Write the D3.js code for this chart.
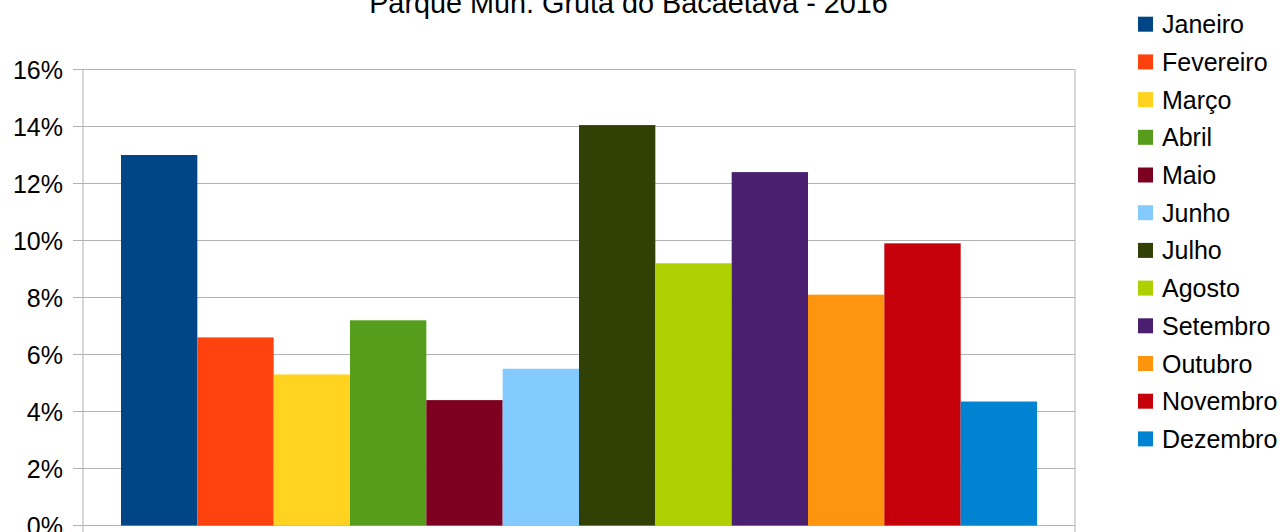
<!DOCTYPE html>
<html lang="pt">
<head>
<meta charset="utf-8">
<title>Parque Mun. Gruta do Bacaetava - 2016</title>
<script src="https://cdn.jsdelivr.net/npm/d3@7"></script>
<style>
  body { margin: 0; background: #ffffff; }
  text { font-family: "Liberation Sans", Arial, sans-serif; fill: #000000; }
  .tick_label { font-size: 25px; text-anchor: end; }
  .legend_label { font-size: 25px; }
  .chart_title { font-size: 28.8px; text-anchor: middle; }
</style>
</head>
<body>
<script>
// data
var months = ["Janeiro", "Fevereiro", "Março", "Abril", "Maio", "Junho",
              "Julho", "Agosto", "Setembro", "Outubro", "Novembro", "Dezembro"];
var values = [13.0, 6.6, 5.3, 7.2, 4.4, 5.5, 14.05, 9.2, 12.4, 8.1, 9.9, 4.35];
var colors = ["#004586", "#ff420e", "#ffd320", "#579d1c", "#7e0021", "#83caff",
              "#314004", "#aecf00", "#4b1f6f", "#ff950e", "#c5000b", "#0084d1"];
var yTicks = [0, 2, 4, 6, 8, 10, 12, 14, 16];
var titleText = "Parque Mun. Gruta do Bacaetava - 2016";

var svgWidth = 1283;
var svgHeight = 532;
var plotLeft = 83;
var plotRight = 1075;
var plotTop = 69.5;
var plotBottom = 525.5;
var gapSide = 38;   // empty space between plot edge and bar group
var gridColor = "#b3b3b3";

var svg = d3.select("body")
  .append("svg")
  .attr("width", svgWidth)
  .attr("height", svgHeight);

var y = d3.scaleLinear()
  .domain([0, 16])
  .range([plotBottom, plotTop]);

var x = d3.scaleBand()
  .domain(months)
  .range([plotLeft + gapSide, plotRight - gapSide])
  .padding(0);

// gridlines
svg.append("g")
  .selectAll("line")
  .data(yTicks)
  .enter()
  .append("line")
  .attr("x1", plotLeft - 10)
  .attr("x2", plotRight)
  .attr("y1", function(d) { return y(d); })
  .attr("y2", function(d) { return y(d); })
  .attr("stroke", gridColor)
  .attr("stroke-width", 1);

// y tick labels
svg.append("g")
  .selectAll("text")
  .data(yTicks)
  .enter()
  .append("text")
  .attr("class", "tick_label")
  .attr("x", plotLeft - 20)
  .attr("y", function(d) { return y(d); })
  .attr("dy", "0.36em")
  .text(function(d) { return d + "%"; });

// bars
svg.append("g")
  .selectAll("rect")
  .data(values)
  .enter()
  .append("rect")
  .attr("x", function(d, i) { return x(months[i]); })
  .attr("width", x.bandwidth())
  .attr("y", function(d) { return y(d); })
  .attr("height", function(d) { return y(0) - y(d); })
  .attr("fill", function(d, i) { return colors[i]; });

// left axis and right border / category ticks
svg.append("line")
  .attr("x1", plotLeft).attr("x2", plotLeft)
  .attr("y1", plotTop).attr("y2", svgHeight)
  .attr("stroke", gridColor);
svg.append("line")
  .attr("x1", plotRight).attr("x2", plotRight)
  .attr("y1", plotTop).attr("y2", svgHeight)
  .attr("stroke", gridColor);

// title
svg.append("text")
  .attr("class", "chart_title")
  .attr("x", 628.5)
  .attr("y", 12.5)
  .text(titleText);

// legend
var legend = svg.append("g")
  .selectAll("g")
  .data(months)
  .enter()
  .append("g")
  .attr("transform", function(d, i) { return "translate(1138," + (24.2 + i * 37.7) + ")"; });

legend.append("rect")
  .attr("x", 0)
  .attr("y", -7.5)
  .attr("width", 15)
  .attr("height", 15)
  .attr("fill", function(d, i) { return colors[i]; });

legend.append("text")
  .attr("class", "legend_label")
  .attr("x", 24)
  .attr("y", 0)
  .attr("dy", "0.36em")
  .text(function(d) { return d; });
</script>
</body>
</html>
